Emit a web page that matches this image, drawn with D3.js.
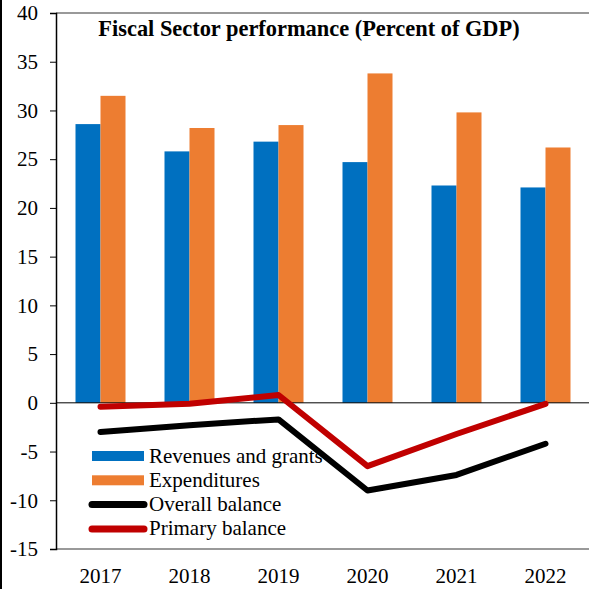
<!DOCTYPE html>
<html>
<head>
<meta charset="utf-8">
<script src="https://cdn.jsdelivr.net/npm/d3@7"></script>
<style>
  body { margin: 0; background: #fff; }
  svg { display: block; }
</style>
</head>
<body>
<svg id="chart"></svg>
<script>
var width = 589;
var height = 589;

// data
var years = ["2017", "2018", "2019", "2020", "2021", "2022"];
var revenues = [28.6, 25.8, 26.8, 24.7, 22.3, 22.1];
var expenditures = [31.5, 28.2, 28.5, 33.8, 29.8, 26.2];
var overallBalance = [-3.0, -2.3, -1.7, -9.0, -7.4, -4.2];
var primaryBalance = [-0.4, -0.1, 0.8, -6.5, -3.2, -0.1];
var yTicks = [40, 35, 30, 25, 20, 15, 10, 5, 0, -5, -10, -15];

var barSeries = [
  { name: "Revenues and grants", values: revenues, color: "#0070C0" },
  { name: "Expenditures", values: expenditures, color: "#ED7D31" }
];
var lineSeries = [
  { name: "Overall balance", values: overallBalance, color: "#000000" },
  { name: "Primary balance", values: primaryBalance, color: "#C00000" }
];

var serif = "Liberation Serif";
var margin = { top: 13, right: -1, bottom: 40, left: 56 };

var svg = d3.select("#chart")
  .attr("width", width)
  .attr("height", height);

// outer left border
svg.append("line")
  .attr("x1", 1).attr("x2", 1)
  .attr("y1", 0).attr("y2", height)
  .attr("stroke", "#000").attr("stroke-width", 2);

var x = d3.scaleBand()
  .domain(years)
  .range([margin.left, width - margin.right])
  .padding(0);

var y = d3.scaleLinear()
  .domain([-15, 40])
  .range([height - margin.bottom, margin.top]);

var xSub = d3.scaleBand()
  .domain(barSeries.map(function (d) { return d.name; }))
  .range([x.bandwidth() / 2 - 25, x.bandwidth() / 2 + 25]);

// frame: top and bottom grey
svg.append("line")
  .attr("x1", margin.left).attr("x2", width)
  .attr("y1", y(40)).attr("y2", y(40))
  .attr("stroke", "#777").attr("stroke-width", 1.5);
svg.append("line")
  .attr("x1", margin.left).attr("x2", width)
  .attr("y1", y(-15)).attr("y2", y(-15))
  .attr("stroke", "#777").attr("stroke-width", 1.5);

// bars
var groups = svg.selectAll(".year")
  .data(years)
  .enter().append("g")
  .attr("class", "year")
  .attr("transform", function (d) { return "translate(" + x(d) + ",0)"; });

groups.selectAll("rect")
  .data(function (d, i) {
    return barSeries.map(function (s) { return { name: s.name, value: s.values[i], color: s.color }; });
  })
  .enter().append("rect")
  .attr("x", function (d) { return xSub(d.name); })
  .attr("width", xSub.bandwidth())
  .attr("y", function (d) { return y(Math.max(0, d.value)); })
  .attr("height", function (d) { return Math.abs(y(d.value) - y(0)); })
  .attr("fill", function (d) { return d.color; });

// zero line
svg.append("line")
  .attr("x1", margin.left).attr("x2", width)
  .attr("y1", y(0)).attr("y2", y(0))
  .attr("stroke", "#000").attr("stroke-width", 1);

// y axis
var yAxis = svg.append("g")
  .attr("transform", "translate(" + margin.left + ",0)")
  .call(d3.axisLeft(y).tickValues(yTicks).tickSize(6).tickPadding(12).tickFormat(function (d) { return String(d); }));
yAxis.attr("font-family", serif).attr("font-size", 21);
yAxis.select(".domain").attr("stroke", "#000").attr("stroke-width", 1.5);
yAxis.selectAll(".tick line").attr("stroke", "#000");
yAxis.selectAll("text").attr("fill", "#000").attr("font-family", serif);

// x labels
var xAxis = svg.append("g")
  .attr("transform", "translate(0," + y(-15) + ")")
  .call(d3.axisBottom(x).tickSize(0).tickPadding(19));
xAxis.attr("font-family", serif).attr("font-size", 21);
xAxis.select(".domain").remove();
xAxis.selectAll("text").attr("fill", "#000").attr("font-family", serif);

// legend
var legend = svg.append("g").attr("transform", "translate(92,456)");
var rowH = 24.3;
barSeries.forEach(function (s, i) {
  legend.append("rect")
    .attr("x", 0).attr("y", i * rowH - 5)
    .attr("width", 52).attr("height", 10)
    .attr("fill", s.color);
  legend.append("text")
    .attr("x", 57).attr("y", i * rowH + 6.5)
    .attr("font-family", serif)
    .attr("font-size", 21)
    .text(s.name);
});
lineSeries.forEach(function (s, j) {
  var i = j + 2;
  legend.append("line")
    .attr("x1", 0).attr("x2", 52)
    .attr("y1", i * rowH).attr("y2", i * rowH)
    .attr("stroke", s.color).attr("stroke-width", 7)
    .attr("stroke-linecap", "round");
  legend.append("text")
    .attr("x", 57).attr("y", i * rowH + 6.5)
    .attr("font-family", serif)
    .attr("font-size", 21)
    .text(s.name);
});

// lines
var line = d3.line()
  .x(function (d, i) { return x(years[i]) + x.bandwidth() / 2; })
  .y(function (d) { return y(d); });

lineSeries.forEach(function (s) {
  svg.append("path")
    .datum(s.values)
    .attr("d", line)
    .attr("fill", "none")
    .attr("stroke", s.color)
    .attr("stroke-width", 6)
    .attr("stroke-linecap", "round")
    .attr("stroke-linejoin", "round");
});

// title
svg.append("text")
  .attr("x", 309)
  .attr("y", 36)
  .attr("text-anchor", "middle")
  .attr("font-family", serif)
  .attr("font-size", 22.4)
  .attr("font-weight", "bold")
  .text("Fiscal Sector performance (Percent of GDP)");
</script>
</body>
</html>
